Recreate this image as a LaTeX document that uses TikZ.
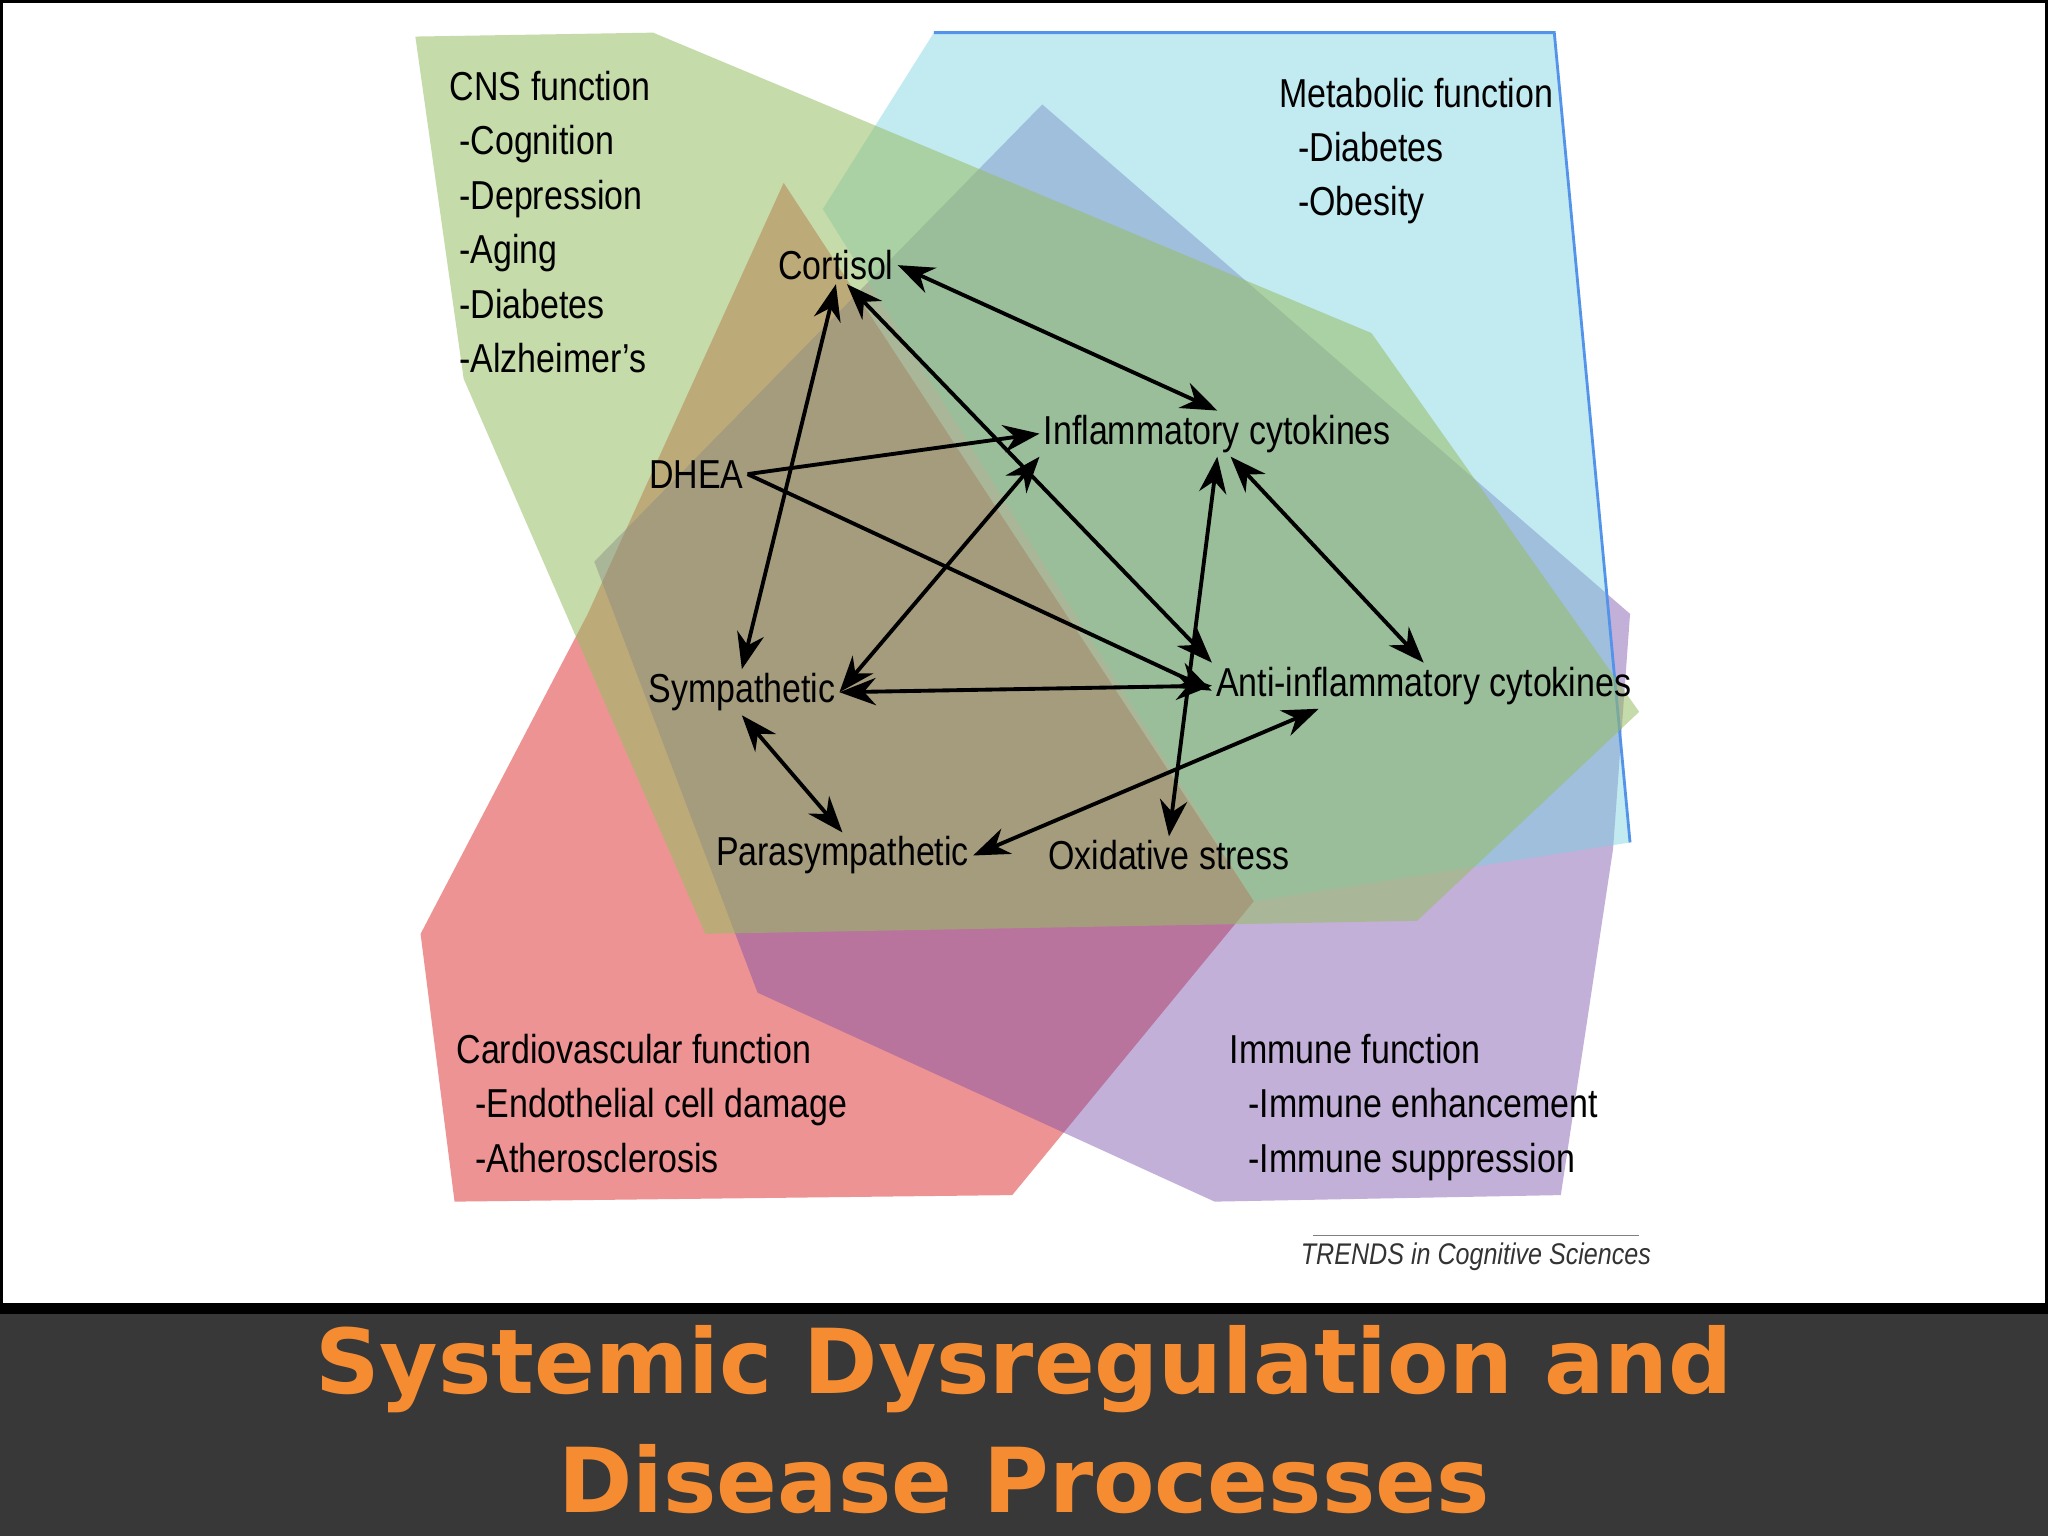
\documentclass[tikz,border=0pt]{standalone}
\usepackage{fontspec}
\setmainfont{Liberation Sans}[FakeStretch=0.84]
\newfontfamily\titlefont{DejaVu Sans}
\usetikzlibrary{arrows.meta}
\definecolor{cnsgreen}{RGB}{150,190,100}
\definecolor{metacyan}{RGB}{120,210,225}
\definecolor{immpurple}{RGB}{120,80,170}
\definecolor{cardred}{RGB}{225,60,60}
\definecolor{titleorange}{RGB}{245,140,50}
\tikzstyle{label} = [inner sep=1pt, font=\fontsize{11.5}{13}\selectfont]
\tikzstyle{block} = [align=left, anchor=north west, font=\fontsize{11.5}{13.5}\selectfont]
\tikzstyle{arrow} = [-{Stealth[scale=1.3]}, line width=1.1pt]
\tikzstyle{both} = [{Stealth[scale=1.3]}-{Stealth[scale=1.3]}, line width=1.1pt]

\begin{document}
\begin{tikzpicture}[x=0.01306cm, y=-0.01306cm]
	\useasboundingbox (0,0) rectangle (1568,1176);
	\fill[white] (0,0) rectangle (1568,1000);
	\draw[black, line width=1pt] (1,1) rectangle (1567,1000);

	% regions
	\fill[cardred, opacity=0.55] (600,140) -- (960,690) -- (775,915) -- (348,920) -- (322,715) -- (450,470) -- cycle;
	\fill[immpurple, opacity=0.45] (798,80) -- (1248,470) -- (1235,650) -- (1195,915) -- (930,920) -- (580,760) -- (455,430) -- cycle;
	\fill[metacyan, opacity=0.45] (715,25) -- (1190,25) -- (1248,645) -- (960,690) -- (630,160) -- cycle;
	\draw[metacyan!70!blue, line width=0.8pt] (715,25) -- (1190,25) -- (1248,645);
	\fill[cnsgreen, opacity=0.55] (318,28) -- (500,25) -- (1050,255) -- (1255,545) -- (1085,705) -- (540,715) -- (355,290) -- cycle;

	\node[block] (cns) at (335,45){CNS function\\[2pt]\ -Cognition\\[2pt]\ -Depression\\[2pt]\ -Aging\\[2pt]\ -Diabetes\\[2pt]\ -Alzheimer's};
	\node[block] (meta) at (970,50){Metabolic function\\[2pt]\ \ -Diabetes\\[2pt]\ \ -Obesity};
	\node[block] (cardio) at (340,782){Cardiovascular function\\[2pt]\ \ -Endothelial cell damage\\[2pt]\ \ -Atherosclerosis};
	\node[block] (immune) at (932,782){Immune function\\[2pt]\ \ -Immune enhancement\\[2pt]\ \ -Immune suppression};

	\node[label](cortisol) at (640,203){Cortisol};
	\node[label](inflam) at (932,332){Inflammatory cytokines};
	\node[label](dhea) at (533,363){DHEA};
	\node[label](symp) at (568,530){Sympathetic};
	\node[label](anti) at (1090,525){Anti-inflammatory cytokines};
	\node[label](para) at (645,655){Parasympathetic};
	\node[label](oxid) at (895,655){Oxidative stress};

	\draw[both](cortisol.east) -- (inflam.north);
	\draw[both](cortisol.south) -- (symp.north);
	\draw[both](cortisol.-60) -- (anti.north west);
	\draw[arrow](dhea.east) -- (inflam.west);
	\draw[arrow](dhea.east) -- ([yshift=-0.05cm]anti.west);
	\draw[both](inflam.south west) -- (symp.east);
	\draw[both](inflam.south) -- (oxid.north);
	\draw[both](inflam.-60) -- (anti.north);
	\draw[both](symp.east) -- (anti.west);
	\draw[both](symp.south) -- (para.north);
	\draw[both](para.east) -- ([xshift=-1.05cm]anti.south);

	\draw[gray] (1005,946) -- (1255,946);
	\node[font=\itshape\fontsize{8.5}{10}\selectfont, text=black!80](trends) at (1130,962){TRENDS in Cognitive Sciences};

	% title banner
	\fill[black!78] (0,1000) rectangle (1568,1176);
	\draw[black, line width=3pt] (0,1002) -- (1568,1002);
	\node[align=center, text=titleorange, font=\titlefont\bfseries\fontsize{25.5}{34}\selectfont](title) at (784,1087){Systemic Dysregulation and\\Disease Processes};
\end{tikzpicture}
\end{document}
